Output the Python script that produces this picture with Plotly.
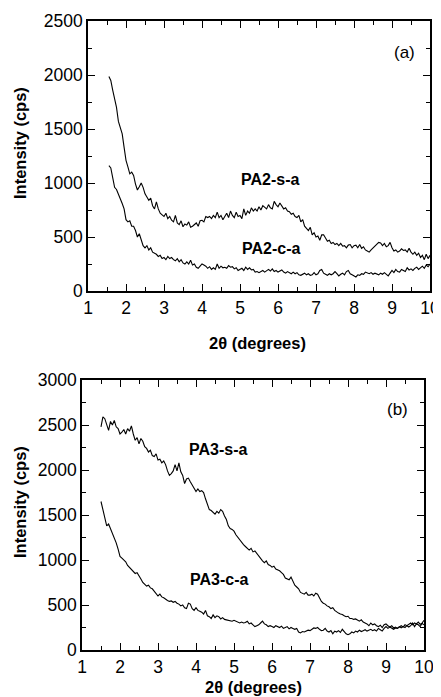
import plotly.graph_objects as go

# ---------------- data ----------------
x_start_a = 1.55
x_start_b = 1.50
x_step = 0.05

pa2_s_a = [1985, 1950, 1860, 1780, 1700, 1570, 1520, 1455, 1330, 1210,
           1150, 1085, 1100, 1070, 990, 935, 965, 1000, 960, 900,
           870, 840, 860, 790, 760, 825, 760, 720, 705, 690,
           720, 670, 690, 655, 640, 700, 630, 615, 650, 595,
           620, 610, 640, 590, 600, 615, 630, 600, 650, 655,
           640, 690, 680, 690, 670, 700, 680, 730, 680, 700,
           660, 690, 720, 680, 740, 700, 680, 730, 690, 700,
           670, 760, 700, 740, 720, 770, 740, 760, 740, 780,
           750, 790, 770, 760, 800, 770, 760, 830, 800, 780,
           815, 790, 760, 770, 740, 735, 710, 720, 690, 680,
           700, 640, 660, 600, 580, 560, 590, 520, 540, 500,
           510, 470, 520, 520, 490, 460, 470, 440, 450, 430,
           440, 420, 440, 415, 420, 400, 425, 430, 400, 420,
           425, 400, 430, 395, 410, 380, 370, 360, 380, 400,
           420, 440, 450, 445, 420, 440, 410, 420, 450, 400,
           370, 380, 360, 370, 390, 375, 380, 360, 395, 360,
           340, 360, 330, 350, 310, 330, 290, 340, 300, 330]

pa2_c_a = [1160, 1140, 1050, 960, 940, 900, 860, 810, 760, 660,
           640, 650, 600, 600, 560, 500, 530, 480, 420, 400,
           420, 380, 400, 360, 350, 340, 320, 330, 300, 310,
           290, 320, 300, 310, 290, 280, 300, 270, 290, 260,
           250, 270, 250, 285, 240, 250, 220, 210, 230, 250,
           240, 230, 210, 225, 200, 215, 200, 250, 210, 230,
           215, 220, 210, 235, 220, 225, 205, 215, 190, 200,
           210, 190, 220, 200, 215, 195, 200, 175, 180, 170,
           180, 190, 175, 190, 200, 185, 205, 180, 190, 175,
           185, 195, 175, 165, 180, 170, 160, 175, 160, 170,
           150, 145, 155, 165, 150, 160, 145, 150, 170, 150,
           160, 190, 200, 165, 155, 145, 160, 150, 160, 180,
           160, 140, 155, 165, 150, 180, 190, 160, 150, 140,
           130, 150, 145, 160, 155, 175, 165, 160, 170, 155,
           165, 160, 150, 165, 155, 170, 150, 140, 165, 190,
           170, 200, 180, 175, 200, 190, 180, 215, 195, 205,
           190, 210, 220, 200, 215, 230, 210, 240, 225, 250]

pa3_s_a = [2480, 2590, 2570, 2500, 2440, 2540, 2500, 2550, 2480, 2460,
           2400, 2420, 2450, 2400, 2460, 2430, 2490, 2400, 2330, 2360,
           2290, 2350, 2320, 2260, 2240, 2200, 2220, 2160, 2150, 2180,
           2110, 2120, 2080, 2100, 2060, 1990, 1940, 1960, 1990, 2060,
           1990, 2080, 1980, 1940, 1850, 1900, 1910, 1870, 1830, 1790,
           1760, 1790, 1760, 1770, 1750, 1680, 1620, 1560, 1550, 1530,
           1510, 1540, 1520, 1560, 1540, 1490, 1450, 1380, 1350, 1340,
           1320, 1280, 1250, 1230, 1190, 1170, 1150, 1130, 1110, 1130,
           1090, 1100, 1070, 1040, 1010, 990, 970, 990, 950, 940,
           920, 930, 900, 890, 880, 860, 840, 800, 790, 780,
           810, 760, 720, 700, 680, 640, 630, 620, 640, 610,
           610, 620, 600, 630, 620, 570, 540, 520, 510, 490,
           480, 460, 470, 440, 420, 410, 400, 395, 380, 370,
           375, 350, 350, 340, 345, 330, 320, 335, 310, 300,
           290, 270, 300, 280, 290, 270, 260, 275, 250, 280,
           290, 270, 255, 240, 230, 245, 240, 260, 245, 260,
           250, 270, 255, 270, 300, 260, 290, 280, 260, 300,
           330]

pa3_c_a = [1650, 1550, 1480, 1380, 1400, 1350, 1280, 1240, 1190, 1120,
           1040, 1020, 1000, 980, 940, 920, 900, 870, 850, 860,
           830, 790, 750, 730, 710, 720, 690, 680, 650, 620,
           600, 620, 590, 580, 560, 550, 540, 545, 530, 540,
           520, 510, 490, 500, 470, 460, 520, 510, 460, 440,
           470, 440, 430, 420, 400, 440, 380, 370, 350, 390,
           360, 380, 370, 345, 360, 340, 335, 330, 325, 320,
           330, 320, 310, 300, 310, 300, 305, 320, 290, 300,
           280, 260, 270, 280, 300, 320, 290, 280, 260, 270,
           260, 250, 270, 255, 250, 265, 240, 250, 260, 235,
           250, 240, 230, 240, 200, 190, 205, 200, 210, 220,
           215, 230, 245, 240, 250, 230, 215, 220, 240, 210,
           200, 215, 180, 210, 200, 215, 195, 230, 200, 180,
           170, 180, 200, 190, 210, 200, 220, 205, 215, 225,
           210, 220, 230, 215, 225, 210, 240, 225, 210, 240,
           260, 240, 255, 270, 245, 255, 240, 260, 270, 255,
           280, 270, 290, 300, 280, 300, 290, 310, 285, 295,
           280]

x_a_s = [round(x_start_a + x_step * i, 2) for i in range(len(pa2_s_a))]
x_a_c = [round(x_start_a + x_step * i, 2) for i in range(len(pa2_c_a))]
x_b_s = [round(x_start_b + x_step * i, 2) for i in range(len(pa3_s_a))]
x_b_c = [round(x_start_b + x_step * i, 2) for i in range(len(pa3_c_a))]

# the page body has an 8px default margin, so the figure is 8px smaller
OFF = 8
W, H = 441 - OFF, 697 - OFF
FONT = "Liberation Sans, Arial, sans-serif"

fig = go.Figure()
line = dict(color="black", width=1.1)
fig.add_trace(go.Scatter(x=x_a_s, y=pa2_s_a, mode="lines", line=line, xaxis="x", yaxis="y"))
fig.add_trace(go.Scatter(x=x_a_c, y=pa2_c_a, mode="lines", line=line, xaxis="x", yaxis="y"))
fig.add_trace(go.Scatter(x=x_b_s, y=pa3_s_a, mode="lines", line=line, xaxis="x2", yaxis="y2"))
fig.add_trace(go.Scatter(x=x_b_c, y=pa3_c_a, mode="lines", line=line, xaxis="x2", yaxis="y2"))

def px_x(p):
    return (p - OFF) / W

def px_y(p):
    return 1 - (p - OFF) / H

common_axis = dict(
    showline=True, linecolor="black", linewidth=1.5, mirror="ticks",
    ticks="inside", ticklen=7, tickwidth=1.2, tickcolor="black",
    showgrid=False, zeroline=False, automargin=False,
    ticklabeloverflow="allow",
    tickfont=dict(family=FONT, size=17.5, color="black"),
)

fig.update_layout(
    width=W, height=H,
    margin=dict(l=0, r=0, t=0, b=0, autoexpand=False),
    paper_bgcolor="white", plot_bgcolor="white",
    showlegend=False,
    xaxis=dict(common_axis, domain=[px_x(88), px_x(430)], range=[1, 10], dtick=1,
               anchor="y",
               minor=dict(ticks="inside", ticklen=4, dtick=0.5, tickcolor="black", tickwidth=1.2)),
    yaxis=dict(common_axis, domain=[px_y(291), px_y(21)], range=[0, 2500], dtick=500,
               anchor="x",
               minor=dict(ticks="inside", ticklen=4, dtick=250, tickcolor="black", tickwidth=1.2)),
    xaxis2=dict(common_axis, domain=[px_x(82), px_x(424)], range=[1, 10], dtick=1,
                anchor="y2",
                minor=dict(ticks="inside", ticklen=4, dtick=0.5, tickcolor="black", tickwidth=1.2)),
    yaxis2=dict(common_axis, domain=[px_y(650), px_y(380)], range=[0, 3000], dtick=500,
                anchor="x2",
                minor=dict(ticks="inside", ticklen=4, dtick=250, tickcolor="black", tickwidth=1.2)),
)

bold = dict(family=FONT, size=16, color="black")
reg = dict(family=FONT, size=17, color="black")
tfont = dict(family=FONT, size=16.5, color="black")
C = dict(showarrow=False, xanchor="center", yanchor="middle")
ann = []
# curve labels
ann.append(dict(C, x=5.79, y=1037, xref="x", yref="y", text="<b>PA2-s-a</b>", font=bold))
ann.append(dict(C, x=5.82, y=398, xref="x", yref="y", text="<b>PA2-c-a</b>", font=bold))
ann.append(dict(C, x=9.34, y=2213, xref="x", yref="y", text="(a)", font=reg))
ann.append(dict(C, x=4.58, y=2233, xref="x2", yref="y2", text="<b>PA3-s-a</b>", font=bold))
ann.append(dict(C, x=4.61, y=778, xref="x2", yref="y2", text="<b>PA3-c-a</b>", font=bold))
ann.append(dict(C, x=9.29, y=2667, xref="x2", yref="y2", text="(b)", font=reg))
# axis titles
ann.append(dict(C, x=px_x(20), y=px_y(143), xref="paper", yref="paper", text="<b>Intensity (cps)</b>",
                textangle=-90, font=tfont))
ann.append(dict(C, x=px_x(20), y=px_y(502), xref="paper", yref="paper", text="<b>Intensity (cps)</b>",
                textangle=-90, font=tfont))
ann.append(dict(C, x=px_x(258), y=px_y(343), xref="paper", yref="paper", text="<b>2θ (degrees)</b>",
                font=tfont))
ann.append(dict(C, x=px_x(253), y=px_y(687), xref="paper", yref="paper", text="<b>2θ (degrees)</b>",
                font=tfont))
fig.update_layout(annotations=ann)

fig.write_html("out.html")
